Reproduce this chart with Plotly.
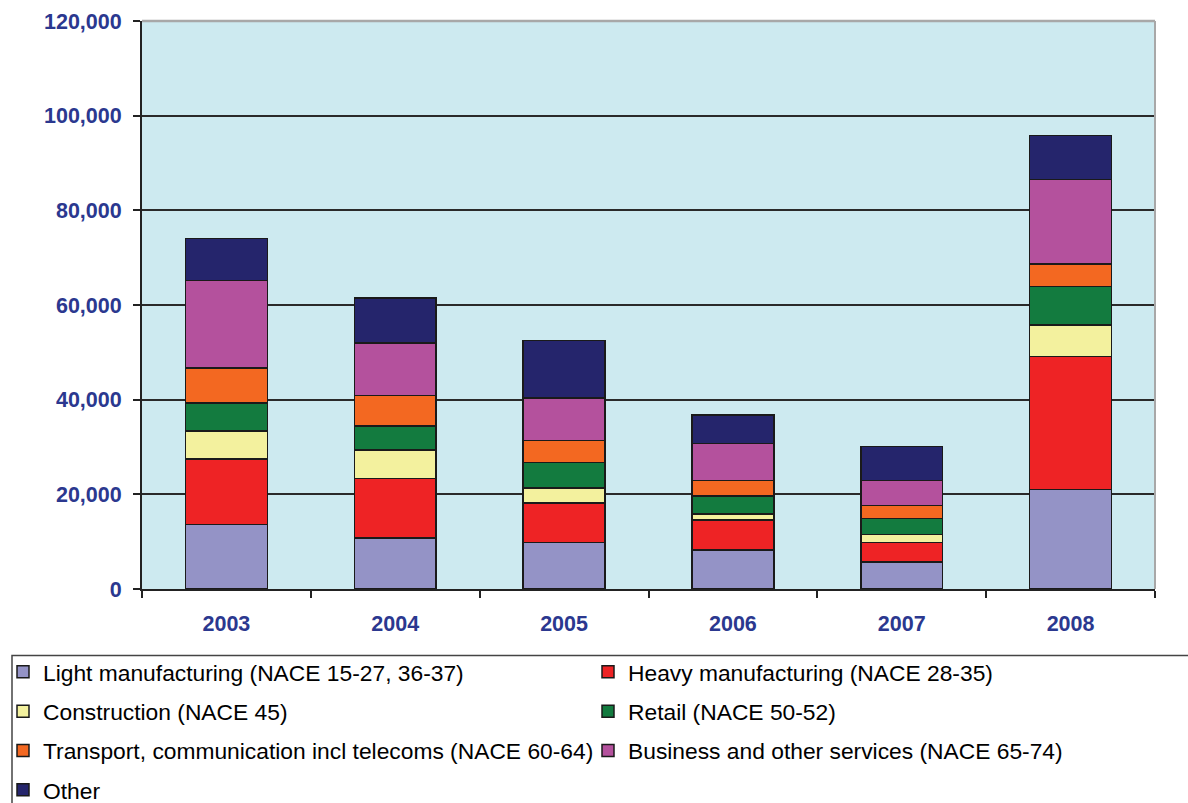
import plotly.graph_objects as go

years = ["2003", "2004", "2005", "2006", "2007", "2008"]

light_manufacturing = [13600, 10800, 9800, 8200, 5700, 21000]
heavy_manufacturing = [13900, 12500, 8400, 6400, 4100, 28100]
construction = [5900, 6100, 3100, 1200, 1700, 6700]
retail = [5900, 5000, 5400, 3800, 3400, 8100]
transport = [7400, 6500, 4700, 3300, 2700, 4800]
business = [18500, 11100, 9000, 7800, 5300, 17800]
other = [8800, 9500, 12100, 6100, 7200, 9300]

series = [
    ("Light manufacturing (NACE 15-27, 36-37)", light_manufacturing, "#9493C6", "legend"),
    ("Heavy manufacturing (NACE 28-35)", heavy_manufacturing, "#EE2325", "legend2"),
    ("Construction (NACE 45)", construction, "#F3F19E", "legend"),
    ("Retail (NACE 50-52)", retail, "#137B3F", "legend2"),
    ("Transport, communication incl telecoms (NACE 60-64)", transport, "#F36821", "legend"),
    ("Business and other services (NACE 65-74)", business, "#B4519D", "legend2"),
    ("Other", other, "#25256C", "legend"),
]

y_ticks = [0, 20000, 40000, 60000, 80000, 100000, 120000]
y_tick_text = ["0", "20,000", "40,000", "60,000", "80,000", "100,000", "120,000"]

tick_color = "#2B388F"
font_family = "Arial, 'Liberation Sans', sans-serif"

W, H = 1188, 803
ML, MR, MT, MB = 142, 33, 21, 214
plot_w = W - ML - MR
plot_h = H - MT - MB

fig = go.Figure()
for i, (name, vals, color, leg) in enumerate(series):
    fig.add_trace(go.Bar(
        x=years, y=vals, name=name, legend=leg, legendgroup=f"g{i}",
        marker=dict(color=color, line=dict(color="#1A1A1A", width=1.5)),
    ))

legend_common = dict(
    orientation="v", xanchor="left", yanchor="top",
    xref="container", yref="container",
    bgcolor="rgba(0,0,0,0)", borderwidth=0,
    font=dict(family=font_family, size=22.8, color="#000000"),
    tracegroupgap=6.7, traceorder="grouped",
)

# legend frame, in paper coordinates of the plot area
frame_left = (12 - ML) / plot_w
frame_top = 1 - (655.5 - MT) / plot_h

fig.update_layout(
    width=W, height=H,
    margin=dict(l=ML, r=MR, t=MT, b=MB, autoexpand=False),
    paper_bgcolor="#FFFFFF",
    plot_bgcolor="#CDEAF0",
    barmode="stack",
    bargap=0.515,
    showlegend=True,
    legend=dict(x=3 / W, y=1 - 650.5 / H, **legend_common),
    legend2=dict(x=588 / W, y=1 - 650.5 / H, **legend_common),
    xaxis=dict(
        type="category",
        automargin=False,
        showline=True, linecolor="#222222", linewidth=2,
        ticks="outside", ticklen=7, tickwidth=1.5, tickcolor="#222222",
        tickson="boundaries",
        tickangle=0,
        ticklabelstandoff=14,
        tickfont=dict(family=font_family, size=21.5, color=tick_color, weight="bold"),
        showgrid=False,
    ),
    yaxis=dict(
        range=[0, 120000],
        automargin=False,
        tickvals=y_ticks, ticktext=y_tick_text,
        showline=True, linecolor="#222222", linewidth=2,
        ticks="outside", ticklen=7, tickwidth=1.5, tickcolor="#222222",
        ticklabelstandoff=7,
        tickfont=dict(family=font_family, size=21.5, color=tick_color, weight="bold"),
        showgrid=True, gridcolor="#2A2A2A", gridwidth=1.5,
        zeroline=False,
    ),
    shapes=[
        # light frame on the top and right of the plot area
        dict(type="line", xref="paper", yref="paper", x0=0, x1=1, y0=1, y1=1,
             line=dict(color="#A8A8A8", width=2.5), layer="above"),
        dict(type="line", xref="paper", yref="paper", x0=1, x1=1, y0=0, y1=1,
             line=dict(color="#A8A8A8", width=2), layer="above"),
        # legend frame
        dict(type="rect", xref="paper", yref="paper", x0=frame_left, x1=1.2,
             y0=frame_top, y1=-0.5, line=dict(color="#444444", width=1.5),
             fillcolor="rgba(0,0,0,0)", layer="above"),
    ],
)

fig.write_html("out.html")
